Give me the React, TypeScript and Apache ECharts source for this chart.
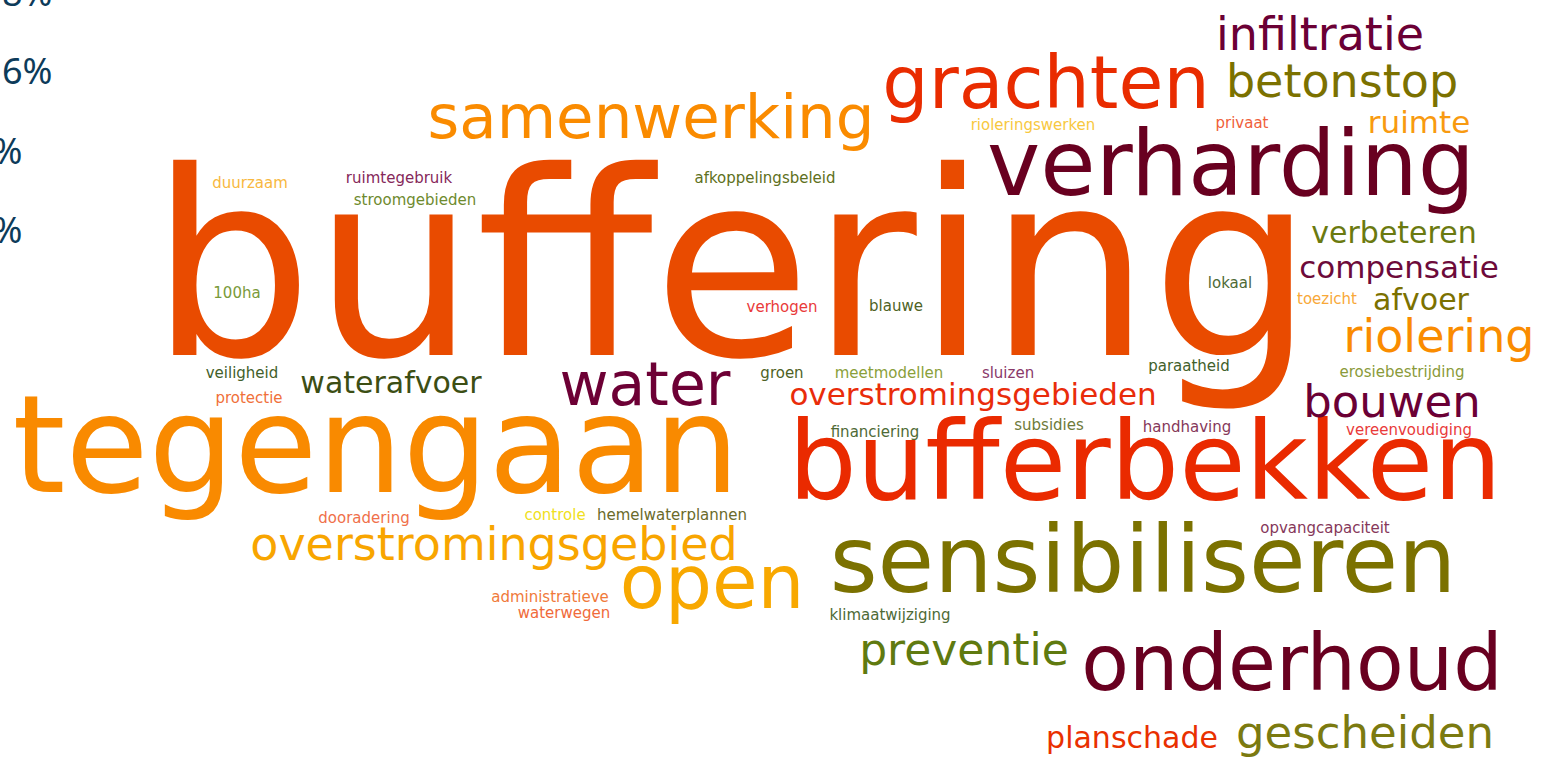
import React, { useEffect, useRef } from "react";
import * as echarts from "echarts";

// Word cloud terms, their weights (rendered font size), colour, and placement (x centre, baseline y)
const words = [
  "buffering", "tegengaan", "bufferbekken", "sensibiliseren", "onderhoud", "verharding",
  "grachten", "samenwerking", "water", "overstromingsgebied", "open", "infiltratie",
  "betonstop", "ruimte", "verbeteren", "compensatie", "afvoer", "riolering", "bouwen",
  "overstromingsgebieden", "waterafvoer", "preventie", "planschade", "gescheiden",
  "rioleringswerken", "privaat", "duurzaam", "ruimtegebruik", "stroomgebieden",
  "afkoppelingsbeleid", "100ha", "verhogen", "blauwe", "lokaal", "toezicht", "veiligheid",
  "protectie", "groen", "meetmodellen", "sluizen", "paraatheid", "erosiebestrijding",
  "financiering", "subsidies", "handhaving", "vereenvoudiging", "dooradering", "controle",
  "hemelwaterplannen", "opvangcapaciteit", "administratieve", "waterwegen", "klimaatwijziging",
];
const weights = [
  257, 135, 108, 92, 78, 90,
  73, 61, 60, 46, 74, 46,
  46, 31, 30, 31, 30, 46, 45,
  31, 30, 44, 30, 45,
  15, 15, 15, 15, 15,
  15, 15, 15, 15, 15, 15, 15,
  15, 15, 15, 15, 15, 15,
  15, 15, 15, 15, 15, 15,
  15, 15, 15, 15, 15,
];
const xCentre = [
  732, 376, 1145, 1143, 1292, 1231,
  1046, 651, 645, 494, 712, 1320,
  1342, 1419, 1394, 1399, 1421, 1439, 1392,
  973, 391, 964, 1132, 1365,
  1033, 1242, 250, 399, 415,
  765, 237, 782, 896, 1230, 1327, 242,
  249, 782, 889, 1008, 1189, 1402,
  875, 1049, 1187, 1409, 364, 555,
  672, 1325, 550, 564, 890,
];
const yBaseline = [
  355, 492, 499, 592, 690, 195,
  108, 138, 405, 560, 608, 50,
  97, 133, 243, 278, 310, 352, 417,
  405, 393, 665, 748, 748,
  130, 128, 188, 183, 205,
  183, 298, 312, 311, 288, 304, 378,
  403, 378, 378, 378, 371, 377,
  437, 430, 432, 435, 523, 520,
  520, 533, 602, 618, 620,
];
const colors = [
  "#E94B00", "#F98A00", "#EA2A00", "#7B7100", "#690020", "#690020",
  "#E92C00", "#FA8B00", "#6D0035", "#F8A500", "#F8A800", "#6B0035",
  "#7B7100", "#F89A10", "#6B7A10", "#6D0A3A", "#7B7100", "#FA8C00", "#6B0035",
  "#E92C0A", "#3C4E14", "#5F7A10", "#E93000", "#7B7A10",
  "#F8C840", "#F0603A", "#F8B840", "#86285A", "#6E8A2E",
  "#5E7020", "#7A9A3A", "#E93A3A", "#4E6224", "#4E6A36", "#F8A838", "#42602A",
  "#F0703A", "#4E6224", "#8AA03A", "#8A3A6A", "#42602A", "#8A9A3A",
  "#4E6A36", "#6E7A3A", "#86385A", "#E93A3A", "#F0704A", "#F0E020",
  "#6A6A2A", "#86385A", "#F07A3A", "#F06A3A", "#4E6A36",
];

// Partially visible axis labels of a neighbouring chart at the left edge
const sideLabels = ["8%", "6%", "4%", "2%"];
const sideRight = [53, 53, 23, 23];
const sideBaseline = [5, 83, 163, 242];

const FONT = "'DejaVu Sans', Verdana, sans-serif";
const CENTRAL = 0.346;
const SIDE_SIZE = 36;

export default function App() {
  const ref = useRef<HTMLDivElement>(null);
  useEffect(() => {
    if (!ref.current) return;
    const chart = echarts.init(ref.current, undefined, { renderer: "svg" });
    const cloud = words.map((w, i) => ({
      name: w,
      value: [xCentre[i], yBaseline[i] - CENTRAL * weights[i]],
      label: { fontSize: weights[i], color: colors[i] },
    }));
    const side = sideLabels.map((t, i) => ({
      name: t,
      value: [sideRight[i], sideBaseline[i] - 0.36 * SIDE_SIZE],
    }));
    chart.setOption({
      animation: false,
      backgroundColor: "#ffffff",
      grid: { left: 0, right: 0, top: 0, bottom: 0 },
      xAxis: { type: "value", min: 0, max: 1542, show: false },
      yAxis: { type: "value", min: 0, max: 764, inverse: true, show: false },
      series: [
        {
          type: "scatter",
          clip: false,
          symbolSize: 1,
          itemStyle: { color: "rgba(0,0,0,0)" },
          silent: true,
          data: cloud,
          label: {
            show: true,
            position: "inside",
            opacity: 1,
            formatter: (p: any) => p.name,
            fontFamily: FONT,
            fontWeight: "normal",
          },
        },
        {
          type: "scatter",
          clip: false,
          symbolSize: 1,
          itemStyle: { color: "rgba(0,0,0,0)" },
          silent: true,
          data: side,
          label: {
            show: true,
            position: "left",
            distance: 0,
            opacity: 1,
            formatter: (p: any) => p.name,
            fontFamily: "'Noto Sans', sans-serif",
            fontSize: SIDE_SIZE,
            color: "#0D3B5A",
          },
        },
      ],
    });
    return () => chart.dispose();
  }, []);
  return (
    <div
      ref={ref}
      style={{ position: "fixed", left: 0, top: 0, width: 1542, height: 764 }}
    />
  );
}
